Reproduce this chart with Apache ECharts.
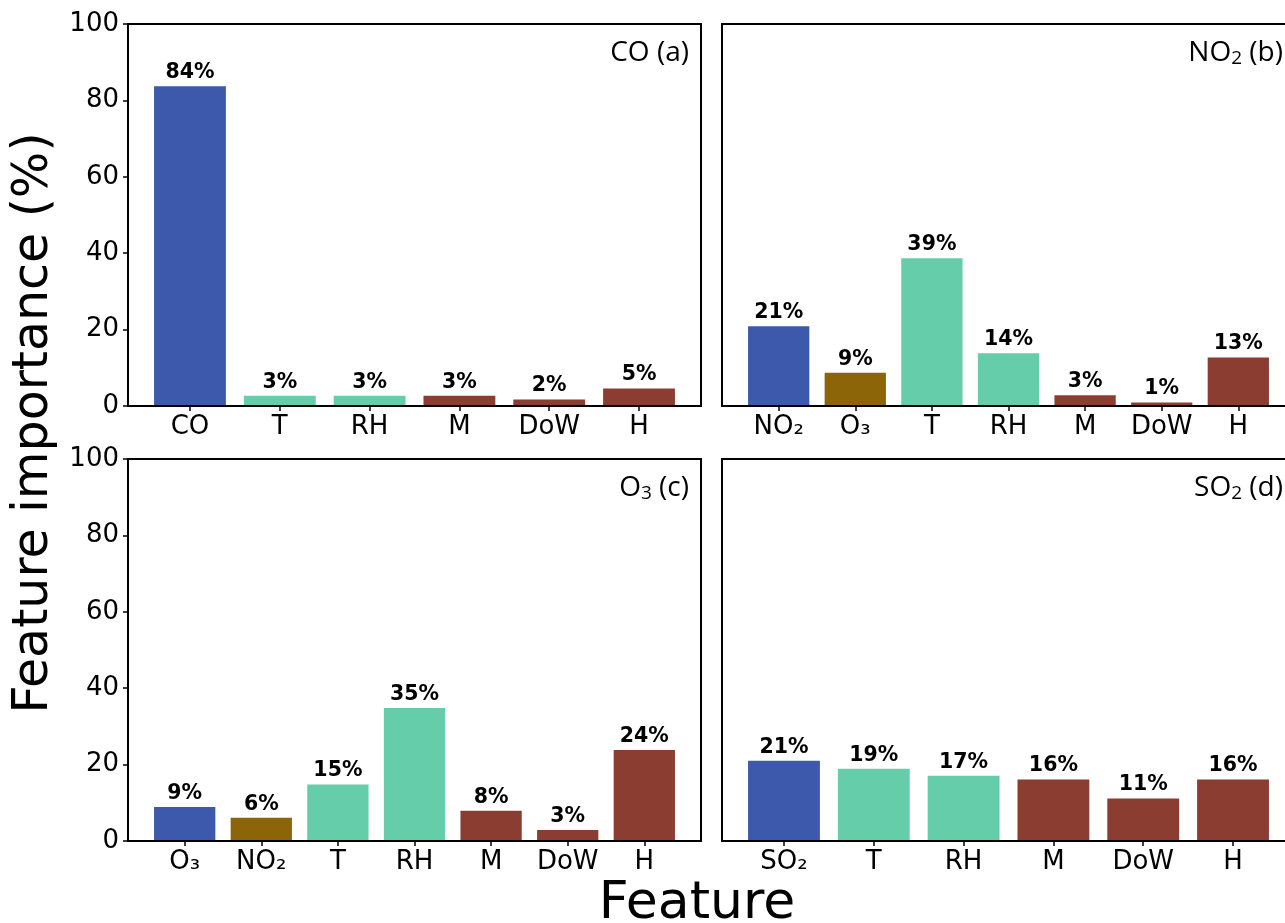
<!DOCTYPE html>
<html>
<head>
<meta charset="utf-8">
<script src="https://cdn.jsdelivr.net/npm/echarts@6/dist/echarts.min.js"></script>
<style>
html,body{margin:0;padding:0;background:#fff;}
#chart{width:1285px;height:923px;}
</style>
</head>
<body>
<div id="chart"></div>
<script>
// ---- data ----
const catsA = ['CO', 'T', 'RH', 'M', 'DoW', 'H'];
const valsA = [83.7, 2.7, 2.7, 2.7, 1.7, 4.6];
const typeA = ['target', 'met', 'met', 'time', 'time', 'time'];

const catsB = ['NO₂', 'O₃', 'T', 'RH', 'M', 'DoW', 'H'];
const valsB = [20.9, 8.7, 38.7, 13.8, 2.8, 0.9, 12.7];
const typeB = ['target', 'other', 'met', 'met', 'time', 'time', 'time'];

const catsC = ['O₃', 'NO₂', 'T', 'RH', 'M', 'DoW', 'H'];
const valsC = [8.9, 6.1, 14.8, 34.8, 7.9, 2.9, 23.8];
const typeC = ['target', 'other', 'met', 'met', 'time', 'time', 'time'];

const catsD = ['SO₂', 'T', 'RH', 'M', 'DoW', 'H'];
const valsD = [21.0, 18.9, 17.1, 16.1, 11.1, 16.1];
const typeD = ['target', 'met', 'met', 'time', 'time', 'time'];

const yTicks = [0, 20, 40, 60, 80, 100];
const titles = [
  {main: 'CO', sub: '', tag: ' (a)'},
  {main: 'NO', sub: '2', tag: ' (b)'},
  {main: 'O', sub: '3', tag: ' (c)'},
  {main: 'SO', sub: '2', tag: ' (d)'}
];
const yName = 'Feature importance (%)';
const xName = 'Feature';

// ---- styling ----
const colorOf = {target: '#3D59AB', other: '#8B6508', met: '#66CDAA', time: '#8B3D32'};
const CW = 1285;
const PW = 573, PH = 382;
const panels = [
  {cats: catsA, vals: valsA, types: typeA, left: 128, top: 24, showY: true},
  {cats: catsB, vals: valsB, types: typeB, left: 722, top: 24, showY: false},
  {cats: catsC, vals: valsC, types: typeC, left: 128, top: 459, showY: true},
  {cats: catsD, vals: valsD, types: typeD, left: 722, top: 459, showY: false}
];
const FONT = 'DejaVu Sans';

const grid = [], xAxis = [], yAxis = [], series = [], title = [];
panels.forEach((p, k) => {
  const n = p.cats.length;
  const margin = 0.05 * (n - 1 + 0.8);
  const idx = p.cats.map((_, i) => i);
  grid.push({left: p.left, top: p.top, width: PW, height: PH, show: true,
    outerBoundsMode: 'none', containLabel: false,
    borderColor: '#000', borderWidth: 2, backgroundColor: 'transparent'});
  xAxis.push({
    type: 'value', gridIndex: k, min: -0.4 - margin, max: n - 1 + 0.4 + margin,
    z: 5,
    axisLine: {show: true, onZero: false, lineStyle: {color: '#000', width: 2}},
    axisTick: {show: true, customValues: idx, length: 5, lineStyle: {color: '#000', width: 1.5}},
    axisLabel: {show: true, customValues: idx, margin: 8, fontSize: 26, fontFamily: FONT, color: '#000',
      formatter: v => p.cats[Math.round(v)]},
    splitLine: {show: false}
  });
  yAxis.push({
    type: 'value', gridIndex: k, min: 0, max: 100, interval: 20, z: 5,
    axisLine: {show: true, onZero: false, lineStyle: {color: '#000', width: 2}},
    axisTick: {show: p.showY, length: 5, lineStyle: {color: '#000', width: 1.5}},
    axisLabel: {show: p.showY, margin: 9, fontSize: 26, fontFamily: FONT, color: '#000'},
    splitLine: {show: false}
  });
  series.push({
    type: 'bar', xAxisIndex: k, yAxisIndex: k, barWidth: '80%',
    data: p.vals.map((v, i) => ({value: [i, v], itemStyle: {color: colorOf[p.types[i]]}})),
    label: {show: true, position: 'top', distance: 3, fontSize: 20.5, fontWeight: 'bold',
      fontFamily: FONT, color: '#000', formatter: q => Math.round(q.value[1]) + '%'}
  });
  const t = titles[k];
  const txt = '{m|' + t.main + '}' + (t.sub ? '{s|' + t.sub + '}' : '') + '{m|' + t.tag + '}';
  title.push({
    text: txt, right: CW - (p.left + PW - 12), top: p.top + 14, padding: 0,
    textStyle: {fontWeight: 'normal', rich: {
      m: {fontSize: 28, fontFamily: 'Open Sans', fontWeight: 'normal', color: '#000', lineHeight: 30},
      s: {fontSize: 19, fontFamily: 'Open Sans', fontWeight: 'normal', color: '#000', lineHeight: 14, verticalAlign: 'bottom'}
    }}
  });
});

const chart = echarts.init(document.getElementById('chart'), null, {renderer: 'canvas'});
chart.setOption({
  animation: false,
  backgroundColor: '#fff',
  title: title,
  grid: grid,
  xAxis: xAxis,
  yAxis: yAxis,
  series: series,
  graphic: [
    {type: 'text', x: 34, y: 423, rotation: Math.PI / 2,
      style: {text: yName, font: '49px "DejaVu Sans"', fill: '#000', align: 'center', verticalAlign: 'middle'}},
    {type: 'text', x: 697, y: 904,
      style: {text: xName, font: '52px "DejaVu Sans"', fill: '#000', align: 'center', verticalAlign: 'middle'}}
  ]
});
</script>
</body>
</html>
